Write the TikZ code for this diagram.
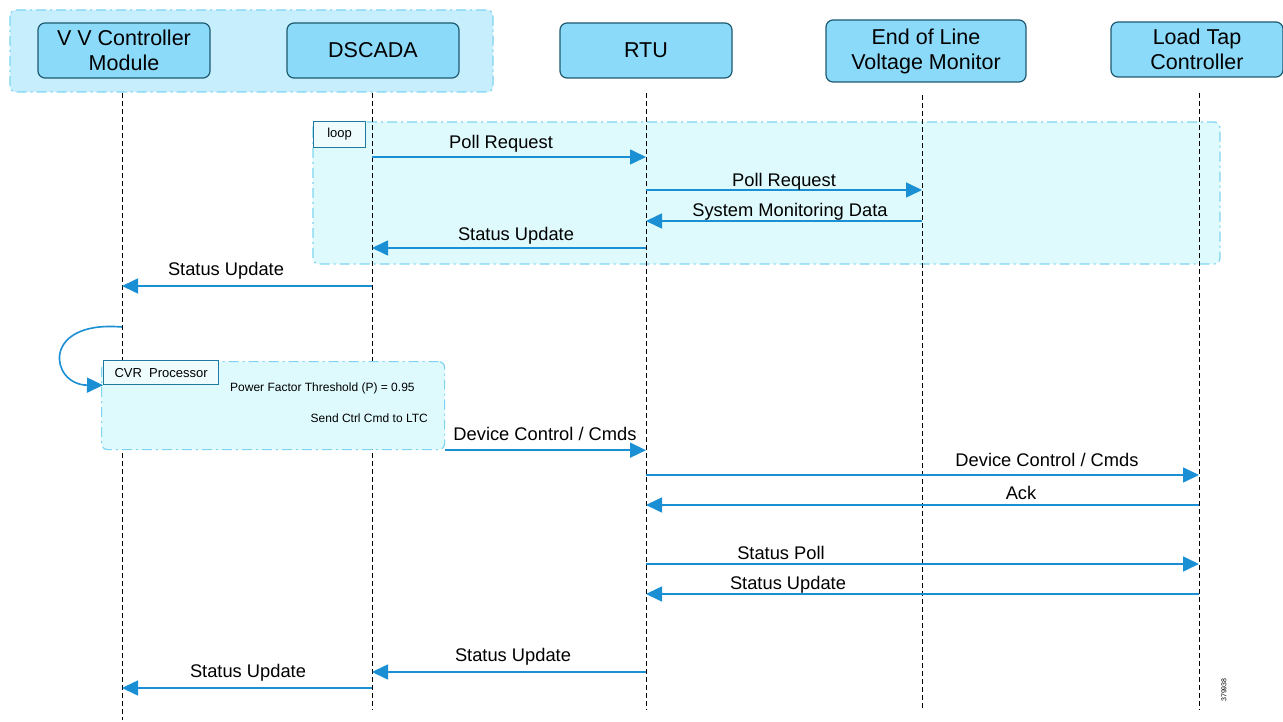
\documentclass[tikz,border=0pt]{standalone}
\usepackage{fontspec}
\setmainfont{Liberation Sans}
\usetikzlibrary{arrows.meta}
\definecolor{headfill}{HTML}{8CDAFA}
\definecolor{headdraw}{HTML}{1E5A70}
\definecolor{grpfill}{HTML}{C6EEFC}
\definecolor{grpdraw}{HTML}{7FD4F2}
\definecolor{loopfill}{HTML}{DEFAFD}
\definecolor{msgcol}{HTML}{1A8FD3}
\definecolor{tagdraw}{HTML}{1F7A9E}
\begin{document}
\begin{tikzpicture}[x=1pt,y=-1pt,
 head/.style={draw=headdraw, fill=headfill, rounded corners=7pt, line width=1.2pt, minimum width=172pt, minimum height=55pt, align=center, font=\fontsize{21.5}{25}\selectfont, inner sep=2pt},
 frame/.style={draw=grpdraw, line width=1.2pt, dash pattern=on 10pt off 4pt on 2pt off 4pt, rounded corners=6pt},
 life/.style={black, line width=1pt, dash pattern=on 5pt off 3pt},
 msg/.style={draw=msgcol, line width=1.6pt, -{Triangle[length=16pt,width=15pt]}, color=msgcol},
 lbl/.style={font=\fontsize{18.3}{20}\selectfont, inner sep=0pt, text=black},
 small/.style={font=\fontsize{12}{14}\selectfont, inner sep=0pt, text=black},
 tag/.style={draw=tagdraw, line width=1.2pt, fill=loopfill!50!white, font=\fontsize{13}{15}\selectfont, inner sep=0pt}
]
\useasboundingbox (0,0) rectangle (1283,722);
\fill[white] (0,0) rectangle (1283,722);

% group of the first two participants
\draw[frame, fill=grpfill] (10,10) rectangle (493,92);

% participants
\node[head] (vv) at (124,50.5) {V V Controller\\Module};
\node[head] (dscada) at (373,50.5) {DSCADA};
\node[head] (rtu) at (646,50.5) {RTU};
\node[head, minimum width=200pt, minimum height=62pt] (eol) at (926,51) {End of Line\\Voltage Monitor};
\node[head] (ltc) at (1197,49.5) {Load Tap\\Controller};

% loop frame
\draw[frame, fill=loopfill] (313,122) rectangle (1220,264);
\node[tag, minimum width=52pt, minimum height=26pt, anchor=north west] (looptag) at (313,121) {loop};

% lifelines
\coordinate (vvT) at (122,93);   \coordinate (vvB) at (122,720);
\coordinate (dsT) at (372,93);   \coordinate (dsB) at (372,710);
\coordinate (rtT) at (646,93);   \coordinate (rtB) at (646,710);
\coordinate (eoT) at (922,95);   \coordinate (eoB) at (922,710);
\coordinate (ltT) at (1199,93);  \coordinate (ltB) at (1199,710);
\draw[life] (vvT) -- (vvB);
\draw[life] (dsT) -- (dsB);
\draw[life] (rtT) -- (rtB);
\draw[life] (eoT) -- (eoB);
\draw[life] (ltT) -- (ltB);

% CVR processor frame
\node[frame, fill=loopfill, minimum width=343pt, minimum height=88pt, anchor=north west, inner sep=0pt] (cvr) at (101,361) {};
\node[tag, minimum width=115pt, minimum height=24pt, anchor=north west] (cvrtag) at (103,360) {CVR\ \ Processor};
\node[small, anchor=west] (pf) at (230,388) {Power Factor Threshold (P) = 0.95};
\node[small, anchor=east] (sc) at (428,418) {Send Ctrl Cmd to LTC};

% messages
\draw[msg] (dsT |- 0,157) -- (rtT |- 0,157);
\node[lbl] (m1) at (501,144) {Poll Request};
\draw[msg] (rtT |- 0,190) -- (eoT |- 0,190);
\node[lbl] (m2) at (784,182) {Poll Request};
\draw[msg] (eoT |- 0,221) -- (rtT |- 0,221);
\node[lbl] (m3) at (790,212) {System Monitoring Data};
\draw[msg] (rtT |- 0,248) -- (dsT |- 0,248);
\node[lbl] (m4) at (516,236) {Status Update};
\draw[msg] (dsT |- 0,286) -- (vvT |- 0,286);
\node[lbl] (m5) at (226,271) {Status Update};

\draw[msg] (vvT |- 0,327) .. controls (40,320) and (50,385) .. (cvrtag.south west);

\draw[msg] (cvr.south east) -- (rtT |- cvr.south east);
\node[lbl] (m7) at (545,434) {Device Control / Cmds};
\draw[msg] (rtT |- 0,475) -- (ltT |- 0,475);
\node[lbl] (m8) at (1047,460) {Device Control / Cmds};
\draw[msg] (ltT |- 0,505) -- (rtT |- 0,505);
\node[lbl] (m9) at (1021,493) {Ack};
\draw[msg] (rtT |- 0,564) -- (ltT |- 0,564);
\node[lbl] (m10) at (781,553) {Status Poll};
\draw[msg] (ltT |- 0,594) -- (rtT |- 0,594);
\node[lbl] (m11) at (788,585) {Status Update};
\draw[msg] (rtT |- 0,672) -- (dsT |- 0,672);
\node[lbl] (m12) at (513,657) {Status Update};
\draw[msg] (dsT |- 0,688) -- (vvT |- 0,688);
\node[lbl] (m13) at (248,673) {Status Update};

\node[font=\fontsize{7}{8}\selectfont, rotate=90, inner sep=0pt] (fig) at (1224,690) {379938};
\end{tikzpicture}
\end{document}
